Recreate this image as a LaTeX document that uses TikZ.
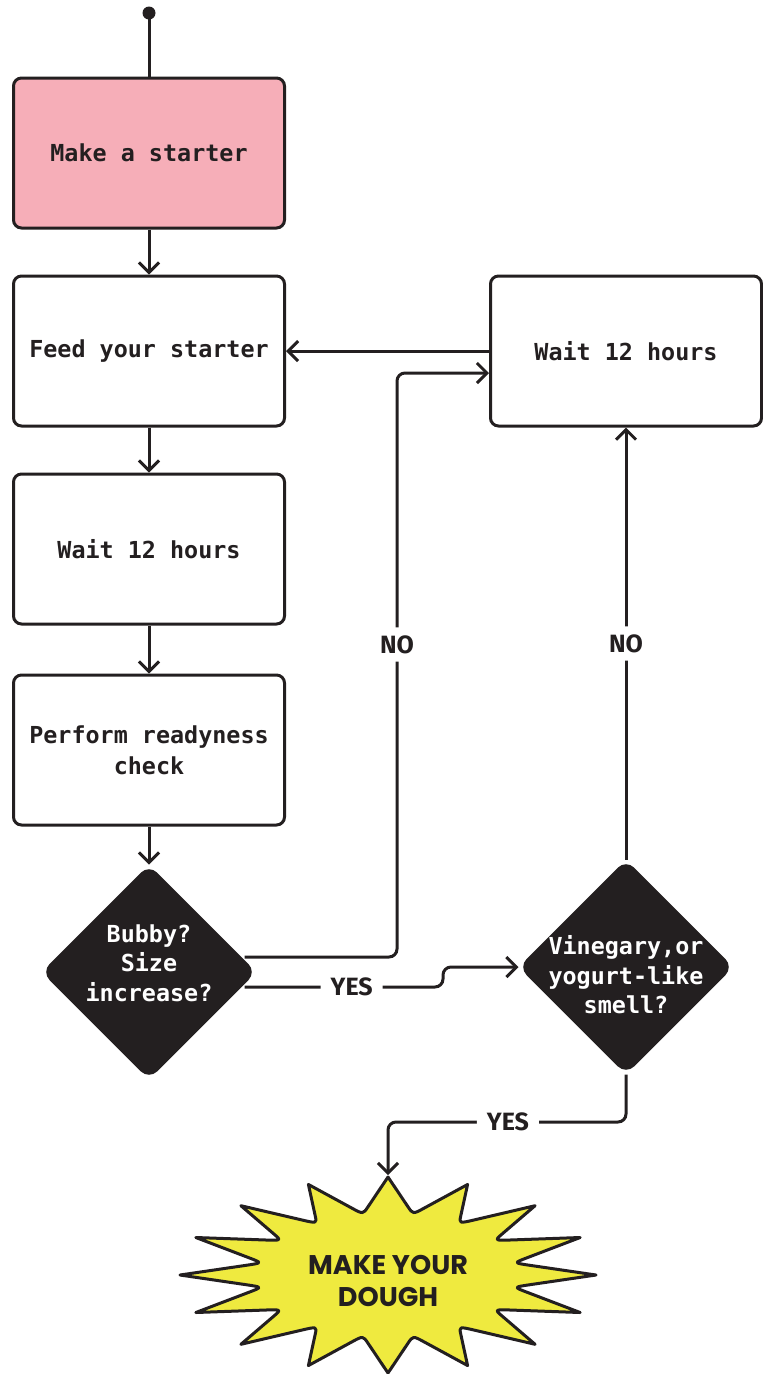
\documentclass[tikz,border=0pt]{standalone}
\usepackage{fontspec}
\usepackage{tikz}
\usetikzlibrary{shapes.geometric, arrows.meta, positioning, calc}
\newfontfamily\boxfont{DejaVu Sans Mono}
\newfontfamily\labelfont{Fira Sans}
\newfontfamily\burstfont{Poppins}
\definecolor{ink}{RGB}{35,31,32}
\definecolor{starterpink}{RGB}{246,174,184}
\definecolor{burstyellow}{RGB}{239,234,63}

\begin{document}
\begin{tikzpicture}[x=1pt, y=-1pt,
  taskbox/.style={draw=ink, line width=3pt, fill=white, rounded corners=8pt,
    minimum width=271pt, minimum height=150pt, text=ink, align=center,
    font=\boxfont\bfseries\fontsize{23.4}{31}\selectfont},
  decision/.style={diamond, aspect=1, draw=ink, fill=ink, line width=3pt,
    rounded corners=10pt, minimum width=212pt, minimum height=212pt, inner sep=0pt},
  decisiontext/.style={text=white, align=center,
    font=\boxfont\bfseries\fontsize{23.4}{29.5}\selectfont},
  lbl/.style={fill=white, text=ink, inner xsep=10pt, inner ysep=8pt,
    font=\labelfont\bfseries\fontsize{25}{25}\selectfont},
  link/.style={draw=ink, line width=3pt, rounded corners=8pt},
  flow/.style={link, -{Straight Barb[length=10pt, width=20pt]}},
  burst/.style={draw=ink, fill=burstyellow, line width=3pt, line join=round},
  bursttext/.style={text=ink, align=center,
    font=\burstfont\bfseries\fontsize{27}{32}\selectfont}]

  \useasboundingbox (0,0) rectangle (763,1374);

  % Left column
  \node[taskbox, fill=starterpink] (make) at (149,153) {Make a starter};
  \node[taskbox] (feed) at (149,351) {Feed your starter};
  \node[taskbox] (wait1) at (149,549) {Wait 12 hours};
  \node[taskbox] (check) at (149,750) {Perform readyness\\check};
  \node[decision] (bubbly) at (149,972) {};
  \node[decisiontext] (bubblytxt) at ([yshift=9pt]bubbly.center) {Bubby?\\Size\\increase?};

  % Right column
  \node[taskbox] (wait2) at (626,351) {Wait 12 hours};
  \node[decision] (vinegar) at (626,967) {};
  \node[decisiontext] (vinegartxt) at ([yshift=-8pt]vinegar.center) {Vinegary,or\\yogurt-like\\smell?};

  % Starburst: spikes and valleys
  \foreach \i in {0,...,15} {
    \coordinate (sp\i) at ({388+208*cos(90+22.5*\i)},{1275-98*sin(90+22.5*\i)});
    \coordinate (va\i) at ({388+128*cos(101.25+22.5*\i)},{1275-62*sin(101.25+22.5*\i)});
  }
  \draw[burst] (sp0)
    \foreach \i [evaluate=\i as \j using {int(mod(\i+1,16))}] in {0,...,15} {
      -- ($(va\i)!0.2!(sp\i)$) .. controls (va\i) .. ($(va\i)!0.2!(sp\j)$) -- (sp\j)
    } -- cycle;
  \node[bursttext] (dough) at (388,1281) {MAKE YOUR\\DOUGH};
  \coordinate (bursttop) at (388,1175);

  % Start
  \coordinate (start) at (149,13);
  \fill[ink] (start) circle (6.5);
  \draw[link] (start) -- (make.north);

  % Main line
  \draw[flow] (make) -- (feed);
  \draw[flow] (feed) -- (wait1);
  \draw[flow] (wait1) -- (check);
  \draw[flow] (check) -- (bubbly);
  \draw[flow] (wait2) -- (feed);

  % Decisions
  \draw[flow] ([shift={(-12pt,15pt)}]bubbly.east) -- (397,957)
    -- node[lbl, pos=0.535] (no1) {NO} (397,373) -- ([yshift=-22pt]wait2.west);
  \draw[flow] ([shift={(-12pt,-15pt)}]bubbly.east)
    -- node[lbl, pos=0.54] (yes1) {YES} (443,987) -- (443,967) -- (vinegar.west);
  \draw[flow] (vinegar.north) -- node[lbl] (no2) {NO} (wait2.south);
  \draw[flow] (vinegar.south) -- (626,1122)
    -- node[lbl, pos=0.496] (yes2) {YES} (388,1122) -- (bursttop);
\end{tikzpicture}
\end{document}
